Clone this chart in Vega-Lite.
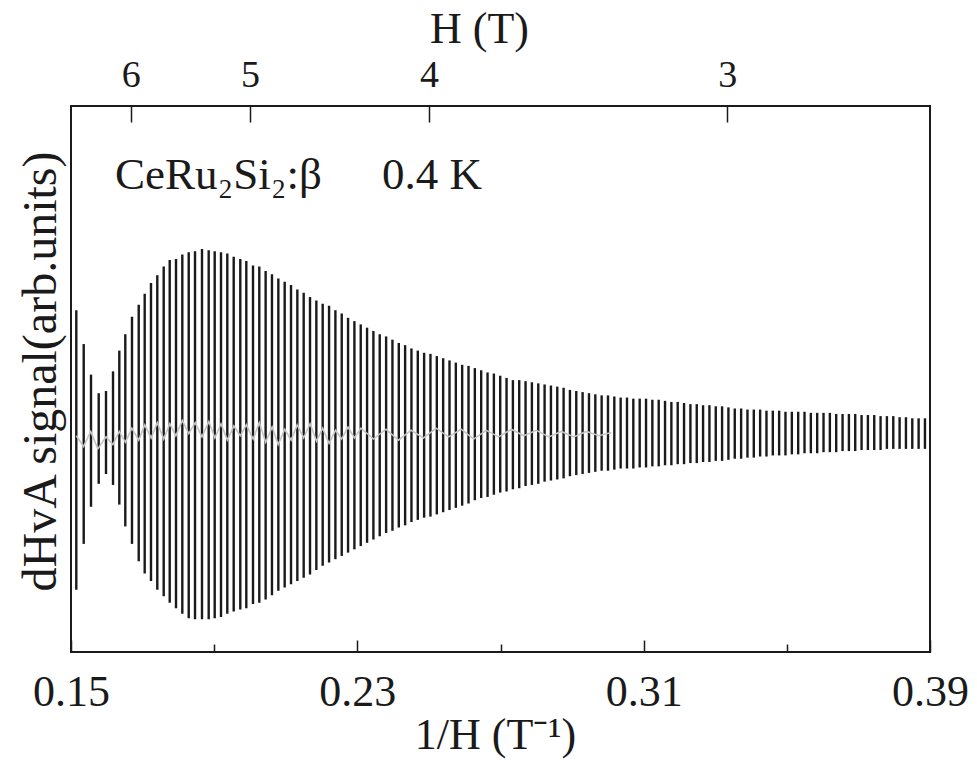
{
  "$schema": "https://vega.github.io/schema/vega-lite/v6.json",
  "autosize": {"type": "none"},
  "width": 859,
  "height": 546,
  "padding": {"left": 71, "top": 106, "right": 47, "bottom": 108},
  "background": "white",
  "config": {
    "view": {"stroke": "#1a1a1a", "strokeWidth": 2},
    "font": "Liberation Serif",
    "axis": {"domain": false, "grid": false, "labelColor": "#1a1a1a", "titleColor": "#1a1a1a", "tickColor": "#1a1a1a", "titleFontWeight": "normal", "labelFont": "Liberation Serif", "titleFont": "Liberation Serif"}
  },
  "datasets": {
    "strokes": [
      {"x":0.15148,"hi":1.13,"lo":-1.43},{"x":0.15355,"hi":0.82,"lo":-1.01},{"x":0.15559,"hi":0.54,"lo":-0.67},{"x":0.15774,"hi":0.37,"lo":-0.46},{"x":0.15978,"hi":0.39,"lo":-0.37},
      {"x":0.16174,"hi":0.57,"lo":-0.47},{"x":0.16350,"hi":0.76,"lo":-0.65},{"x":0.16517,"hi":0.91,"lo":-0.85},{"x":0.16704,"hi":1.07,"lo":-1.01},{"x":0.16892,"hi":1.18,"lo":-1.17},
      {"x":0.17059,"hi":1.28,"lo":-1.28},{"x":0.17235,"hi":1.38,"lo":-1.35},{"x":0.17411,"hi":1.45,"lo":-1.43},{"x":0.17590,"hi":1.53,"lo":-1.49},{"x":0.17758,"hi":1.59,"lo":-1.55},
      {"x":0.17934,"hi":1.60,"lo":-1.60},{"x":0.18110,"hi":1.64,"lo":-1.65},{"x":0.18289,"hi":1.66,"lo":-1.69},{"x":0.18465,"hi":1.67,"lo":-1.70},{"x":0.18660,"hi":1.69,"lo":-1.70},
      {"x":0.18847,"hi":1.68,"lo":-1.70},{"x":0.19015,"hi":1.67,"lo":-1.69},{"x":0.19191,"hi":1.66,"lo":-1.68},{"x":0.19367,"hi":1.65,"lo":-1.65},{"x":0.19546,"hi":1.62,"lo":-1.63},
      {"x":0.19730,"hi":1.60,"lo":-1.61},{"x":0.19898,"hi":1.58,"lo":-1.60},{"x":0.20085,"hi":1.54,"lo":-1.56},{"x":0.20261,"hi":1.53,"lo":-1.55},{"x":0.20438,"hi":1.49,"lo":-1.52},
      {"x":0.20615,"hi":1.46,"lo":-1.48},{"x":0.20793,"hi":1.42,"lo":-1.44},{"x":0.20970,"hi":1.39,"lo":-1.41},{"x":0.21147,"hi":1.36,"lo":-1.38},{"x":0.21324,"hi":1.32,"lo":-1.35},
      {"x":0.21501,"hi":1.29,"lo":-1.32},{"x":0.21678,"hi":1.25,"lo":-1.29},{"x":0.21855,"hi":1.22,"lo":-1.25},{"x":0.22032,"hi":1.19,"lo":-1.21},{"x":0.22210,"hi":1.17,"lo":-1.18},
      {"x":0.22387,"hi":1.13,"lo":-1.15},{"x":0.22564,"hi":1.10,"lo":-1.12},{"x":0.22741,"hi":1.06,"lo":-1.09},{"x":0.22918,"hi":1.03,"lo":-1.06},{"x":0.23095,"hi":1.00,"lo":-1.03},
      {"x":0.23272,"hi":0.97,"lo":-1.00},{"x":0.23449,"hi":0.94,"lo":-0.97},{"x":0.23626,"hi":0.91,"lo":-0.94},{"x":0.23804,"hi":0.89,"lo":-0.91},{"x":0.23981,"hi":0.86,"lo":-0.89},
      {"x":0.24158,"hi":0.83,"lo":-0.86},{"x":0.24335,"hi":0.81,"lo":-0.84},{"x":0.24512,"hi":0.78,"lo":-0.81},{"x":0.24689,"hi":0.76,"lo":-0.79},{"x":0.24866,"hi":0.74,"lo":-0.77},
      {"x":0.25043,"hi":0.73,"lo":-0.76},{"x":0.25221,"hi":0.71,"lo":-0.74},{"x":0.25398,"hi":0.69,"lo":-0.72},{"x":0.25575,"hi":0.67,"lo":-0.70},{"x":0.25752,"hi":0.65,"lo":-0.68},
      {"x":0.25929,"hi":0.63,"lo":-0.66},{"x":0.26106,"hi":0.62,"lo":-0.64},{"x":0.26283,"hi":0.60,"lo":-0.61},{"x":0.26460,"hi":0.58,"lo":-0.59},{"x":0.26638,"hi":0.56,"lo":-0.58},
      {"x":0.26815,"hi":0.55,"lo":-0.56},{"x":0.26992,"hi":0.53,"lo":-0.54},{"x":0.27169,"hi":0.51,"lo":-0.53},{"x":0.27346,"hi":0.49,"lo":-0.51},{"x":0.27523,"hi":0.49,"lo":-0.50},
      {"x":0.27700,"hi":0.48,"lo":-0.48},{"x":0.27877,"hi":0.47,"lo":-0.47},{"x":0.28055,"hi":0.46,"lo":-0.46},{"x":0.28232,"hi":0.45,"lo":-0.44},{"x":0.28409,"hi":0.44,"lo":-0.43},
      {"x":0.28586,"hi":0.43,"lo":-0.42},{"x":0.28763,"hi":0.42,"lo":-0.41},{"x":0.28940,"hi":0.40,"lo":-0.39},{"x":0.29117,"hi":0.39,"lo":-0.38},{"x":0.29294,"hi":0.38,"lo":-0.37},
      {"x":0.29472,"hi":0.37,"lo":-0.36},{"x":0.29649,"hi":0.36,"lo":-0.35},{"x":0.29826,"hi":0.35,"lo":-0.34},{"x":0.30003,"hi":0.35,"lo":-0.34},{"x":0.30180,"hi":0.34,"lo":-0.33},
      {"x":0.30357,"hi":0.33,"lo":-0.32},{"x":0.30534,"hi":0.33,"lo":-0.32},{"x":0.30711,"hi":0.32,"lo":-0.32},{"x":0.30889,"hi":0.32,"lo":-0.31},{"x":0.31066,"hi":0.32,"lo":-0.31},
      {"x":0.31243,"hi":0.31,"lo":-0.30},{"x":0.31420,"hi":0.31,"lo":-0.30},{"x":0.31597,"hi":0.30,"lo":-0.29},{"x":0.31774,"hi":0.29,"lo":-0.29},{"x":0.31951,"hi":0.29,"lo":-0.28},
      {"x":0.32128,"hi":0.28,"lo":-0.28},{"x":0.32306,"hi":0.27,"lo":-0.27},{"x":0.32483,"hi":0.27,"lo":-0.27},{"x":0.32660,"hi":0.26,"lo":-0.26},{"x":0.32837,"hi":0.26,"lo":-0.26},
      {"x":0.33014,"hi":0.25,"lo":-0.25},{"x":0.33191,"hi":0.25,"lo":-0.25},{"x":0.33368,"hi":0.24,"lo":-0.24},{"x":0.33545,"hi":0.23,"lo":-0.23},{"x":0.33723,"hi":0.23,"lo":-0.23},
      {"x":0.33900,"hi":0.22,"lo":-0.22},{"x":0.34077,"hi":0.22,"lo":-0.22},{"x":0.34254,"hi":0.22,"lo":-0.21},{"x":0.34431,"hi":0.21,"lo":-0.21},{"x":0.34608,"hi":0.21,"lo":-0.20},
      {"x":0.34785,"hi":0.21,"lo":-0.20},{"x":0.34962,"hi":0.20,"lo":-0.20},{"x":0.35140,"hi":0.20,"lo":-0.19},{"x":0.35317,"hi":0.20,"lo":-0.19},{"x":0.35494,"hi":0.20,"lo":-0.18},
      {"x":0.35671,"hi":0.19,"lo":-0.18},{"x":0.35848,"hi":0.19,"lo":-0.18},{"x":0.36025,"hi":0.19,"lo":-0.17},{"x":0.36202,"hi":0.19,"lo":-0.17},{"x":0.36379,"hi":0.18,"lo":-0.17},
      {"x":0.36557,"hi":0.18,"lo":-0.16},{"x":0.36734,"hi":0.18,"lo":-0.16},{"x":0.36911,"hi":0.18,"lo":-0.16},{"x":0.37088,"hi":0.17,"lo":-0.15},{"x":0.37265,"hi":0.17,"lo":-0.15},
      {"x":0.37442,"hi":0.17,"lo":-0.15},{"x":0.37619,"hi":0.16,"lo":-0.15},{"x":0.37796,"hi":0.16,"lo":-0.14},{"x":0.37974,"hi":0.16,"lo":-0.14},{"x":0.38151,"hi":0.15,"lo":-0.14},
      {"x":0.38328,"hi":0.15,"lo":-0.14},{"x":0.38505,"hi":0.14,"lo":-0.14},{"x":0.38682,"hi":0.14,"lo":-0.14},{"x":0.38859,"hi":0.14,"lo":-0.14}
    ],
    "trace": [
      {"x":0.1515,"g":-0.02},{"x":0.1535,"g":-0.12},{"x":0.1555,"g":0.02},{"x":0.1575,"g":-0.14},{"x":0.1598,"g":-0.03},
      {"x":0.1617,"g":-0.10},{"x":0.1635,"g":0.02},{"x":0.1652,"g":-0.08},{"x":0.1670,"g":0.05},{"x":0.1689,"g":-0.06},
      {"x":0.1706,"g":0.08},{"x":0.1724,"g":-0.04},{"x":0.1741,"g":0.10},{"x":0.1759,"g":-0.05},{"x":0.1776,"g":0.09},
      {"x":0.1793,"g":-0.02},{"x":0.1811,"g":0.12},{"x":0.1829,"g":0.00},{"x":0.1847,"g":0.10},{"x":0.1866,"g":-0.03},
      {"x":0.1885,"g":0.11},{"x":0.1902,"g":-0.04},{"x":0.1919,"g":0.09},{"x":0.1937,"g":-0.06},{"x":0.1955,"g":0.07},
      {"x":0.1973,"g":-0.02},{"x":0.1990,"g":0.08},{"x":0.2009,"g":-0.05},{"x":0.2026,"g":0.10},{"x":0.2044,"g":-0.08},
      {"x":0.2062,"g":0.06},{"x":0.2079,"g":-0.10},{"x":0.2097,"g":0.04},{"x":0.2115,"g":-0.06},{"x":0.2132,"g":0.08},
      {"x":0.2150,"g":-0.04},{"x":0.2168,"g":0.09},{"x":0.2186,"g":-0.07},{"x":0.2203,"g":0.05},{"x":0.2221,"g":-0.09},
      {"x":0.2239,"g":0.03},{"x":0.2256,"g":-0.05},{"x":0.2274,"g":0.06},{"x":0.2292,"g":-0.04},{"x":0.2310,"g":0.05},
      {"x":0.2345,"g":-0.05},{"x":0.2380,"g":0.04},{"x":0.2415,"g":-0.06},{"x":0.2450,"g":0.03},{"x":0.2485,"g":-0.04},
      {"x":0.2520,"g":0.05},{"x":0.2555,"g":-0.03},{"x":0.2590,"g":0.04},{"x":0.2625,"g":-0.05},{"x":0.2660,"g":0.03},
      {"x":0.2695,"g":-0.03},{"x":0.2730,"g":0.04},{"x":0.2765,"g":-0.02},{"x":0.2800,"g":0.03},{"x":0.2835,"g":-0.03},
      {"x":0.2870,"g":0.02},{"x":0.2905,"g":-0.03},{"x":0.2940,"g":0.02},{"x":0.2975,"g":-0.02},{"x":0.3010,"g":0.01}
    ],
    "labels": [
      {"label": "CeRu₂Si₂:β", "x": 0.16229, "y": 2.24},
      {"label": "0.4 K", "x": 0.2369, "y": 2.24}
    ]
  },
  "resolve": {"axis": {"x": "independent", "y": "independent"}},
  "layer": [
    {
      "data": {"name": "strokes"},
      "mark": {"type": "rule", "color": "#1a1a1a", "strokeWidth": 2.4},
      "encoding": {
        "x": {
          "field": "x", "type": "quantitative",
          "scale": {"domain": [0.15, 0.39], "nice": false, "zero": false},
          "axis": {
            "orient": "bottom",
            "values": [0.15, 0.19, 0.23, 0.27, 0.31, 0.35, 0.39],
            "labelExpr": "(datum.value == 0.19 || datum.value == 0.27 || datum.value == 0.35) ? '' : format(datum.value, '.2f')",
            "tickSize": {"condition": {"test": "datum.value == 0.19 || datum.value == 0.27 || datum.value == 0.35", "value": -8}, "value": -12},
            "tickWidth": 1.5,
            "labelFontSize": 44,
            "labelBaseline": "alphabetic",
            "labelPadding": 65,
            "labelFlush": false,
            "labelOverlap": false,
            "labelBound": false,
            "title": "1/H (T⁻¹)",
            "titleFontSize": 44,
            "titleX": 424,
            "titleY": 96,
            "titleAlign": "center",
            "titleBaseline": "alphabetic"
          }
        },
        "y": {
          "field": "hi", "type": "quantitative",
          "scale": {"domain": [-2, 3], "nice": false, "zero": false},
          "axis": {
            "orient": "left",
            "ticks": false,
            "labels": false,
            "title": "dHvA signal(arb.units)",
            "titleFontSize": 48,
            "titleAngle": -90,
            "titleX": -16,
            "titleY": 265,
            "titleAlign": "center",
            "titleBaseline": "alphabetic"
          }
        },
        "y2": {"field": "lo"}
      }
    },
    {
      "data": {"name": "trace"},
      "mark": {"type": "line", "color": "#c4c4c4", "strokeWidth": 1.6},
      "encoding": {
        "x": {
          "field": "x", "type": "quantitative",
          "scale": {"domain": [0.15, 0.39], "nice": false, "zero": false},
          "axis": {
            "orient": "top",
            "values": [0.166667, 0.2, 0.25, 0.333333],
            "labelExpr": "format(1 / datum.value, '.0f')",
            "tickSize": -16,
            "tickWidth": 1.5,
            "labelFontSize": 38,
            "labelBaseline": "alphabetic",
            "labelPadding": 36,
            "labelFlush": false,
            "labelOverlap": false,
            "labelBound": false,
            "title": "H (T)",
            "titleFontSize": 44,
            "titleX": 408,
            "titleY": -64,
            "titleAlign": "center",
            "titleBaseline": "alphabetic"
          }
        },
        "y": {
          "field": "g", "type": "quantitative",
          "scale": {"domain": [-2, 3], "nice": false, "zero": false},
          "axis": null
        }
      }
    },
    {
      "data": {"name": "labels"},
      "mark": {"type": "text", "align": "left", "baseline": "alphabetic", "fontSize": 45, "font": "Liberation Serif", "color": "#1a1a1a"},
      "encoding": {
        "text": {"field": "label"},
        "x": {"field": "x", "type": "quantitative", "scale": {"domain": [0.15, 0.39], "nice": false, "zero": false}, "axis": null},
        "y": {"field": "y", "type": "quantitative", "scale": {"domain": [-2, 3], "nice": false, "zero": false}, "axis": null}
      }
    }
  ]
}
